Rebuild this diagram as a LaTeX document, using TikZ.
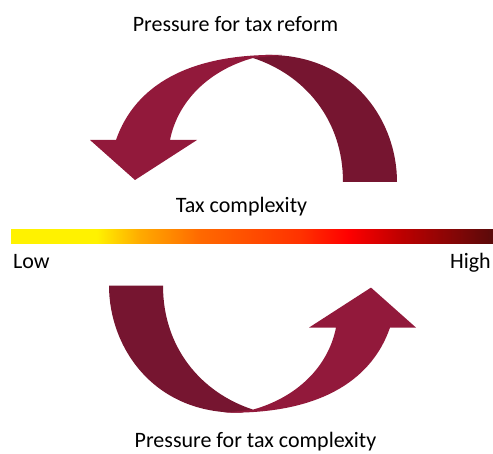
\documentclass[tikz,border=0pt]{standalone}
\usepackage{fontspec}
\setmainfont{Carlito}
\definecolor{ribbonlight}{RGB}{146,25,59}
\definecolor{ribbondark}{RGB}{118,21,48}
\definecolor{barA}{RGB}{255,242,0}
\definecolor{barB}{RGB}{255,170,0}
\definecolor{barC}{RGB}{255,105,0}
\definecolor{barD}{RGB}{255,50,0}
\definecolor{barE}{RGB}{255,0,0}
\definecolor{barF}{RGB}{190,0,0}
\definecolor{barG}{RGB}{90,10,10}
\pgfdeclarehorizontalshading{taxbar}{100bp}{color(0bp)=(barA); color(25bp)=(barA); color(33.9bp)=(barA); color(38.4bp)=(barB); color(44.6bp)=(barC); color(55bp)=(barD); color(59.9bp)=(barE); color(65.4bp)=(barF); color(75bp)=(barG); color(100bp)=(barG)}
\newcommand\taxribbon{
\fill[ribbondark] (397,182) .. controls (397,120) and (352,53) .. (265,55) -- (253,58) .. controls (305,75) and (343,120) .. (343,182) -- cycle;
\fill[ribbonlight] (282,55) .. controls (190,53) and (135,85) .. (116,140) -- (90,140) -- (135,180) -- (197,140) -- (170,140) .. controls (178,100) and (210,70) .. (253,58) -- cycle;
}
\begin{document}
\begin{tikzpicture}[x=1pt, y=-1pt, words/.style={font=\fontsize{22}{26}\selectfont, inner sep=0pt}]
\useasboundingbox (0,0) rectangle (493,454);
\taxribbon
\begin{scope}[rotate around={180:(253,233.8)}]
\taxribbon
\end{scope}
\shade[shading=taxbar] (11,230) rectangle (493,244);
\node[words, anchor=base] (reform) at (235.5,32) {Pressure for tax reform};
\node[words, anchor=base] (scale) at (241.5,213) {Tax complexity};
\node[words, anchor=base west] (low) at (13,269) {Low};
\node[words, anchor=base east] (high) at (491,269) {High};
\node[words, anchor=base] (complex) at (255.5,447) {Pressure for tax complexity};
\end{tikzpicture}
\end{document}
